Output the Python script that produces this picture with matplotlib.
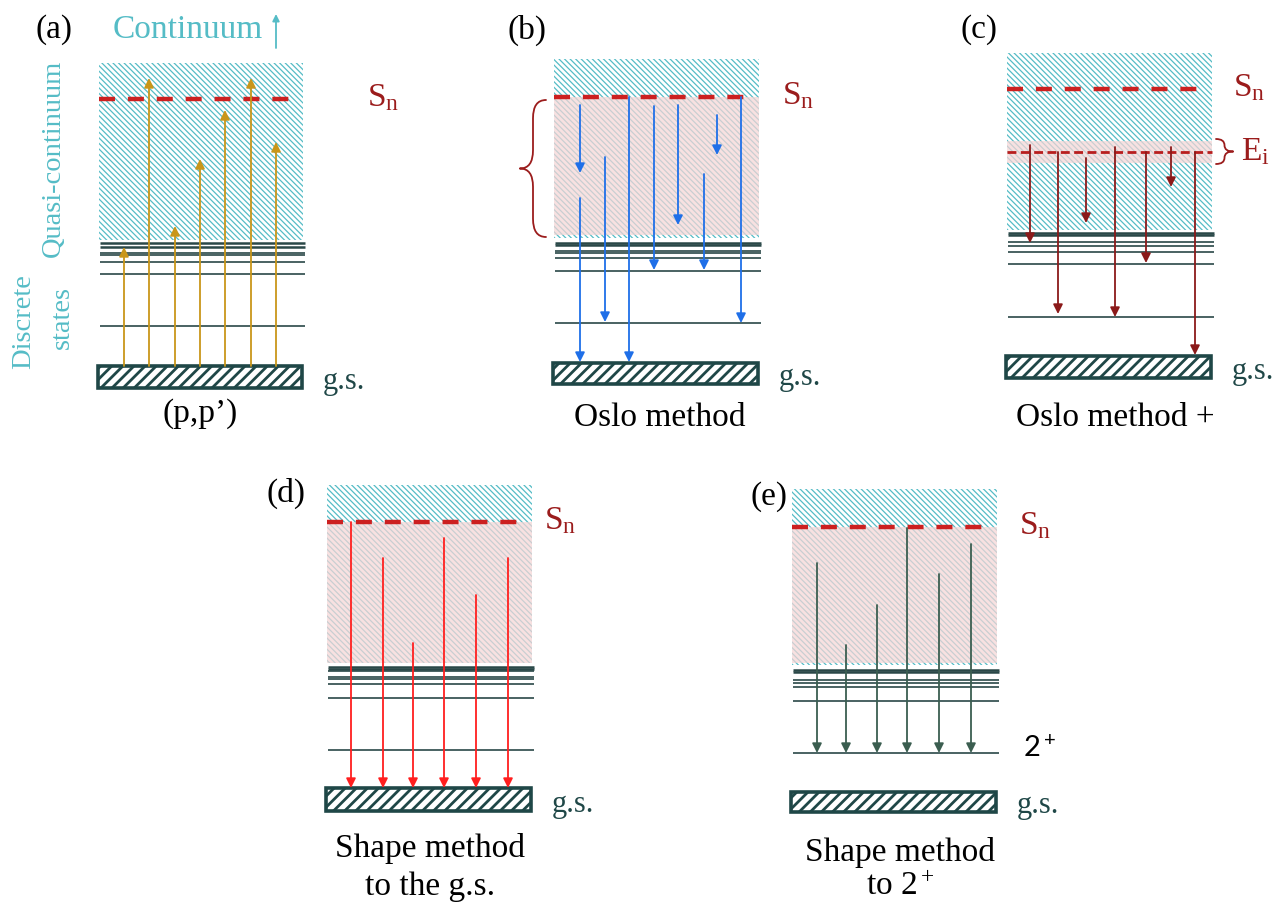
import matplotlib.pyplot as plt
from matplotlib.patches import Rectangle, PathPatch
from matplotlib.path import Path

plt.rcParams['mathtext.fontset'] = 'custom'
plt.rcParams['mathtext.rm'] = 'Liberation Serif'
plt.rcParams['mathtext.it'] = 'Liberation Serif:italic'
plt.rcParams['mathtext.sf'] = 'Lato'

SERIF = 'Liberation Serif'

CYAN = '#55bcc6'
SN_RED = '#cc2020'
LABEL_RED = '#9b1c1c'
LEVEL = '#2a4848'
GS = '#1f4747'
PINK = '#f6d6d6'

# geometry of the five level schemes (a)-(e), in figure pixels
panel_names = ['(a)', '(b)', '(c)', '(d)', '(e)']
panel_x0 = [99, 554, 1007, 327, 792]
panel_x1 = [303, 759, 1212, 532, 997]
qc_top = [63, 59, 53, 485, 489]
qc_bottom = [240, 238, 230, 663, 665]
sn_y = [99, 97, 89, 522, 527]
sn_end = [293, 748, 1200, 520, 985]
gs_top = [366, 363, 356, 788, 792]
gs_bottom = [388, 384, 378, 811, 812]
levels = [
    [243, 247, 253, 255, 262, 274, 326],
    [243, 245, 251, 253, 258, 271, 323],
    [233, 235, 242, 246, 252, 264, 317],
    [667, 669, 671, 677, 679, 684, 698, 750],
    [670, 672, 680, 683, 687, 701, 753],
]
# shaded excitation-energy window (None for (a))
window_top = [None, 97, 141, 522, 527]
window_bottom = [None, 235, 163, 663, 663]

# gamma / proton arrows: x, start, end
a_x = [124, 149, 175, 200, 225, 251, 276]
a_from = [366, 366, 366, 366, 366, 366, 366]
a_to = [247, 78, 226, 159, 110, 78, 142]

b_x = [580, 580, 605, 629, 654, 678, 717, 704, 741]
b_from = [105, 198, 157, 97, 106, 105, 115, 174, 97]
b_to = [173, 362, 322, 362, 270, 225, 155, 270, 323]

c_x = [1030, 1058, 1086, 1115, 1146, 1171, 1195]
c_from = [145, 152, 158, 147, 152, 147, 152]
c_to = [243, 314, 223, 317, 263, 187, 355]

d_x = [351, 383, 413, 444, 476, 508]
d_from = [522, 558, 643, 538, 595, 558]
d_to = [788, 788, 788, 788, 788, 788]

e_x = [817, 846, 877, 907, 939, 971]
e_from = [563, 645, 605, 528, 574, 544]
e_to = [753, 753, 753, 753, 753, 753]

arrow_sets = [(a_x, a_from, a_to, '#c9961a'),
              (b_x, b_from, b_to, '#1f6fe8'),
              (c_x, c_from, c_to, '#8b1a1a'),
              (d_x, d_from, d_to, '#ff1f1f'),
              (e_x, e_from, e_to, '#3b5e50')]

label_pos = [(54, 30), (527, 30), (979, 30), (286, 493), (769, 497)]
sn_label_x = [367, 782, 1233, 544, 1019]
titles = [['(p,p\u2019)'], ['Oslo method'], ['Oslo method +'],
          ['Shape method', 'to the g.s.'], ['Shape method', 'to 2$^+$']]
title_x = [200, 660, 1115, 430, 900]
title_base = [[422], [426], [426], [857, 895], [861, 895]]

fig = plt.figure(figsize=(12.79, 9.05), dpi=100)
ax = fig.add_axes([0, 0, 1, 1])
ax.set_xlim(0, 1279)
ax.set_ylim(905, 0)
ax.axis('off')


def hatched(x0, x1, y0, y1, color, hatch, hlw, **kw):
    with plt.rc_context({'hatch.linewidth': hlw}):
        p = Rectangle((x0, y0), x1 - x0, y1 - y0, hatch=hatch,
                      edgecolor=color, **kw)
    if hasattr(p, 'set_hatch_linewidth'):
        p.set_hatch_linewidth(hlw)
    ax.add_patch(p)
    return p


def brace(x_tip, x_mid, y0, y1, color):
    # curly brace: tips at x_tip, pointed middle at x_mid
    xs = (x_tip + x_mid) / 2
    ym = (y0 + y1) / 2
    r = min(abs(x_tip - xs) * 1.4, (y1 - y0) / 4)
    verts = [(x_tip, y0), (xs, y0), (xs, y0 + r),
             (xs, ym - r), (xs, ym), (x_mid, ym),
             (x_mid, ym), (xs, ym), (xs, ym + r),
             (xs, y1 - r), (xs, y1), (x_tip, y1)]
    codes = [Path.MOVETO, Path.CURVE3, Path.CURVE3,
             Path.LINETO, Path.CURVE3, Path.CURVE3,
             Path.MOVETO, Path.CURVE3, Path.CURVE3,
             Path.LINETO, Path.CURVE3, Path.CURVE3]
    ax.add_patch(PathPatch(Path(verts, codes), fill=False, edgecolor=color,
                           lw=1.3, capstyle='round', joinstyle='round'))


for i in range(5):
    x0, x1 = panel_x0[i], panel_x1[i]
    # quasi-continuum
    hatched(x0, x1, qc_top[i], qc_bottom[i], CYAN, '\\' * 6, 0.9,
            facecolor='white', lw=0, zorder=1)
    if window_top[i] is not None:
        ax.add_patch(Rectangle((x0, window_top[i]), x1 - x0,
                               window_bottom[i] - window_top[i],
                               facecolor=PINK, alpha=0.72, lw=0, zorder=2))
    # discrete levels
    for k, y in enumerate(levels[i]):
        lw = 1.8 if k < 2 else 1.2
        ax.plot([x0 + 1, x1 + 2], [y, y], color=LEVEL, lw=lw,
                solid_capstyle='butt', zorder=3)
    # ground state
    hatched(x0 - 1, x1 - 1, gs_top[i], gs_bottom[i], GS, '///', 2.0,
            facecolor='white', lw=2.6, zorder=3)
    # neutron separation energy
    ax.plot([x0, sn_end[i]], [sn_y[i], sn_y[i]], color=SN_RED, lw=3.2,
            linestyle=(0, (3.6, 2.9)), solid_capstyle='butt', zorder=4)
    ax.text(sn_label_x[i], sn_y[i] + 7, r'$\mathrm{S_n}$', color=LABEL_RED,
            fontsize=24, va='baseline', ha='left', zorder=6)
    ax.text(x1 + 20, gs_bottom[i] + 1, 'g.s.', family=SERIF, color=GS,
            fontsize=22, va='baseline', ha='left')
    ax.text(*label_pos[i], panel_names[i], family=SERIF, fontsize=24,
            ha='center', va='center')
    for line, yb in zip(titles[i], title_base[i]):
        ax.text(title_x[i], yb, line, family=SERIF, fontsize=24,
                ha='center', va='baseline')

    xs, ys, ye, col = arrow_sets[i]
    for x, y_start, y_end in zip(xs, ys, ye):
        ax.annotate('', xy=(x, y_end), xytext=(x, y_start),
                    arrowprops=dict(arrowstyle='-|>', color=col, lw=1.3,
                                    mutation_scale=14, shrinkA=0, shrinkB=0),
                    zorder=5)

# Ei window of panel (c)
ax.plot([panel_x0[2], panel_x1[2]], [152, 152], color='#b81e1e', lw=2.0,
        linestyle=(0, (3.2, 1.6)), zorder=4)
brace(1216, 1233, 139, 164, LABEL_RED)
ax.text(1241, 160, r'$\mathrm{E_i}$', color=LABEL_RED,
        fontsize=24, va='baseline', ha='left')

# excitation window brace of panel (b)
brace(546, 520, 100, 237, LABEL_RED)

# 2+ level of panel (e)
ax.text(1023, 757, r'$\mathsf{2^+}$', fontsize=21, va='baseline', ha='left')

# side labels of panel (a)
ax.text(113, 30, 'Continuum', family=SERIF, color=CYAN, fontsize=24,
        ha='left', va='center')
ax.annotate('', xy=(276, 14), xytext=(276, 48),
            arrowprops=dict(arrowstyle='-|>', color=CYAN, lw=1.3,
                            mutation_scale=10, shrinkA=0, shrinkB=0))
ax.text(53, 158, 'Quasi-continuum', family=SERIF, color=CYAN, fontsize=20.5,
        rotation=90, ha='center', va='center')
ax.text(24, 322, 'Discrete', family=SERIF, color=CYAN, fontsize=20.5,
        rotation=90, ha='center', va='center')
ax.text(62, 317, 'states', family=SERIF, color=CYAN, fontsize=20.5,
        rotation=90, ha='center', va='center')

fig.savefig('out.png', dpi=100)
